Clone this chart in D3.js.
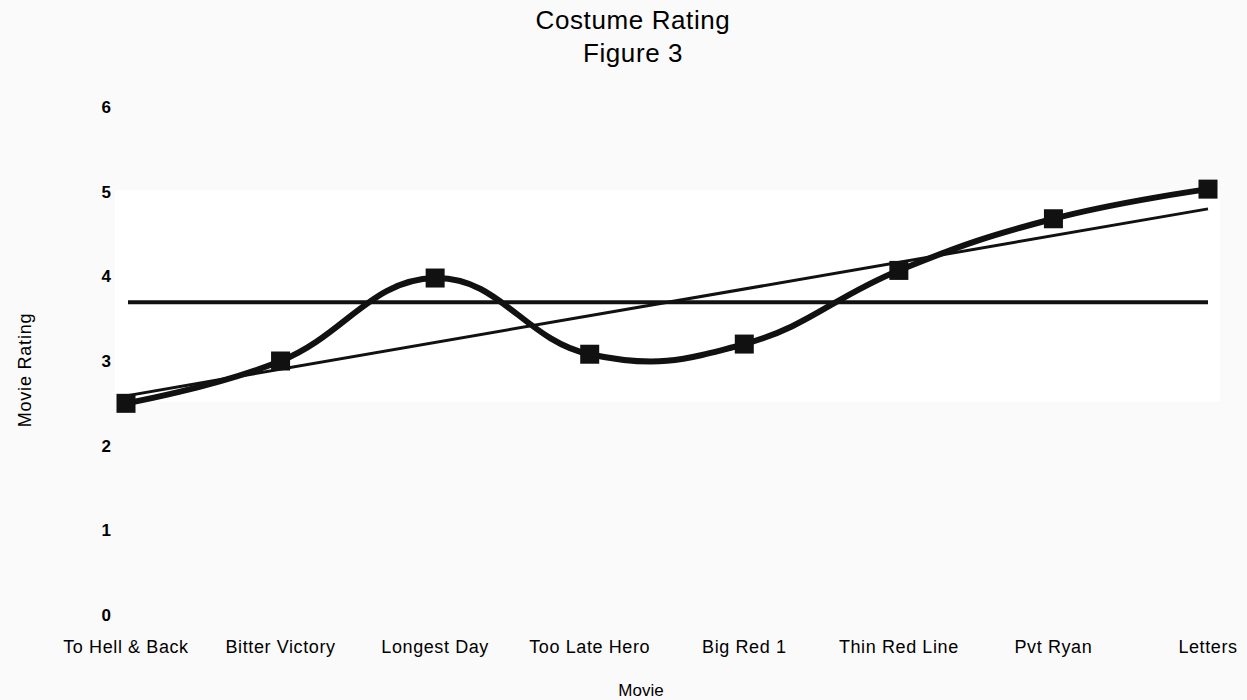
<!DOCTYPE html>
<html>
<head>
<meta charset="utf-8">
<script src="https://cdn.jsdelivr.net/npm/d3@7"></script>
<style>
  body { margin: 0; background: #fafafa; }
  text { font-family: "Liberation Sans", Arial, sans-serif; fill: #000; }
</style>
</head>
<body>
<div id="chart"></div>
<script>
const movies = ["To Hell & Back", "Bitter Victory", "Longest Day", "Too Late Hero",
                "Big Red 1", "Thin Red Line", "Pvt Ryan", "Letters"];
const ratings = [2.5, 3.0, 3.98, 3.08, 3.2, 4.07, 4.68, 5.03];
const yTicks = [0, 1, 2, 3, 4, 5, 6];
const titleLines = ["Costume Rating", "Figure 3"];

const width = 1247, height = 700;

const svg = d3.select("#chart").append("svg")
    .attr("width", width).attr("height", height);

svg.append("rect").attr("width", width).attr("height", height).attr("fill", "#fafafa");

const x = d3.scalePoint().domain(d3.range(movies.length)).range([126, 1208]);
const y = d3.scaleLinear().domain([0, 6]).range([615, 107]);

// white plot band
svg.append("rect")
    .attr("x", x(0) - 11).attr("y", y(5.02))
    .attr("width", x(movies.length - 1) - x(0) + 23)
    .attr("height", y(2.52) - y(5.02))
    .attr("fill", "#fff");

// title
svg.append("text")
    .attr("x", 633).attr("y", 29)
    .attr("text-anchor", "middle")
    .style("font-size", "26px").style("letter-spacing", "0.6px")
    .selectAll("tspan").data(titleLines).join("tspan")
    .attr("x", 633).attr("dy", (d, i) => i ? 33 : 0)
    .text(d => d);

// y tick labels
svg.append("g").selectAll("text").data(yTicks).join("text")
    .attr("x", 111).attr("y", d => y(d))
    .attr("dy", "0.35em").attr("text-anchor", "end")
    .style("font-size", "17px").style("font-weight", "bold")
    .text(d => d);

// x tick labels
svg.append("g").selectAll("text").data(movies).join("text")
    .attr("x", (d, i) => x(i)).attr("y", 653)
    .attr("text-anchor", "middle")
    .style("font-size", "18px").style("letter-spacing", "0.6px")
    .text(d => d);

// axis titles
svg.append("text")
    .attr("x", 641).attr("y", 696)
    .attr("text-anchor", "middle")
    .style("font-size", "17px")
    .text("Movie");

svg.append("text")
    .attr("transform", "translate(31,370) rotate(-90)")
    .attr("text-anchor", "middle")
    .style("font-size", "18px").style("letter-spacing", "0.8px")
    .text("Movie Rating");

// mean line
const mean = d3.mean(ratings);
svg.append("line")
    .attr("x1", x(0) + 2).attr("x2", x(movies.length - 1))
    .attr("y1", y(mean)).attr("y2", y(mean))
    .attr("stroke", "#111").attr("stroke-width", 4);

// linear trend
const idx = d3.range(ratings.length);
const mx = d3.mean(idx);
const slope = d3.sum(idx, i => (i - mx) * (ratings[i] - mean)) / d3.sum(idx, i => (i - mx) ** 2);
const b = mean - slope * mx;
const trend = d3.line().x(d => x(d)).y(d => y(b + slope * d));
svg.append("path")
    .attr("d", trend([0, movies.length - 1]))
    .attr("fill", "none").attr("stroke", "#111").attr("stroke-width", 3);

// smoothed series
const line = d3.line()
    .x((d, i) => x(i)).y(d => y(d))
    .curve(d3.curveCardinal.tension(-0.25));
svg.append("path")
    .attr("d", line(ratings))
    .attr("fill", "none").attr("stroke", "#111").attr("stroke-width", 6);

// markers
const s = 19;
svg.append("g").selectAll("rect").data(ratings).join("rect")
    .attr("x", (d, i) => x(i) - s / 2).attr("y", d => y(d) - s / 2)
    .attr("width", s).attr("height", s)
    .attr("fill", "#111");
</script>
</body>
</html>
